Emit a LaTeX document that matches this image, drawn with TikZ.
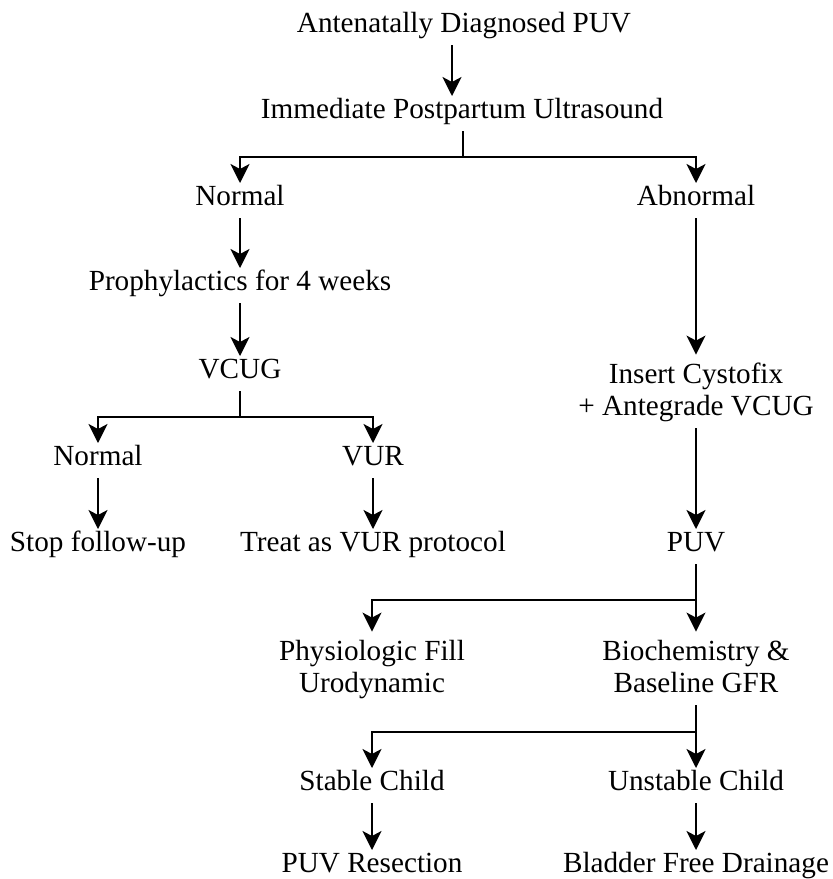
\documentclass[tikz,border=0pt]{standalone}
\usepackage{fontspec}
\setmainfont{Liberation Serif}
\usetikzlibrary{arrows.meta}

\begin{document}
\begin{tikzpicture}[x=0.5pt, y=-0.5pt,
        step label/.style={anchor=base, align=center, inner sep=3.5pt,
          text height=0.7em, text depth=0.25em,
          font=\fontsize{14.6}{16}\selectfont},
        two lines/.style={text height=26.2pt},
        >={Stealth[length=9.5pt,width=9.5pt,inset=2.5pt]}, line width=1pt]

        \useasboundingbox (0,0) rectangle (833,879);

        \node[step label] (ant)   at (464,32)  {Antenatally Diagnosed PUV};
        \node[step label] (ups)   at (462,118) {Immediate Postpartum Ultrasound};
        \node[step label] (norm)  at (240,205) {Normal};
        \node[step label] (abn)   at (696,205) {Abnormal};
        \node[step label] (proph) at (240,290) {Prophylactics for 4 weeks};
        \node[step label] (vcug)  at (240,378) {VCUG};
        \node[step label] (normb) at (98,465)  {Normal};
        \node[step label] (vur)   at (373,465) {VUR};
        \node[step label] (stop)  at (98,551)  {Stop follow-up};
        \node[step label] (treat) at (373,551) {Treat as VUR protocol};
        \node[step label,two lines] (cysto) at (696,415) {Insert Cystofix\\+ Antegrade VCUG};
        \node[step label] (puv)   at (696,551) {PUV};
        \node[step label,two lines] (phys) at (372,692) {Physiologic Fill\\Urodynamic};
        \node[step label,two lines] (bio)  at (696,692) {Biochemistry \&\\Baseline GFR};
        \node[step label] (stab)  at (372,790) {Stable Child};
        \node[step label] (unst)  at (696,790) {Unstable Child};
        \node[step label] (resec) at (372,872) {PUV Resection};
        \node[step label] (drain) at (696,872) {Bladder Free Drainage};

        \coordinate (split1) at (463,157);
        \coordinate (split2) at (240,417);
        \coordinate (split3) at (696,600);
        \coordinate (split4) at (696,732);

        % Top
        \draw[->] ([xshift=-6pt]ant.south) -- ([xshift=-6pt]ant.south |- ups.north);
        \draw (ups.south -| split1) -- (split1);
        \draw[->] (split1) -| (norm.north);
        \draw[->] (split1) -| (abn.north);

        % Normal branch
        \draw[->] (norm) -- (proph);
        \draw[->] (proph) -- (vcug);
        \draw (vcug.south) -- (split2);
        \draw[->] (split2) -| (normb.north);
        \draw[->] (split2) -| (vur.north);
        \draw[->] (normb) -- (stop);
        \draw[->] (vur) -- (treat);

        % Abnormal branch
        \draw[->] (abn) -- (cysto);
        \draw[->] (cysto) -- (puv);
        \draw[->] (puv) -- (bio);
        \draw[->] (split3) -| (phys.north);
        \draw[->] (bio) -- (unst);
        \draw[->] (split4) -| (stab.north);
        \draw[->] (stab) -- (resec);
        \draw[->] (unst) -- (drain);
      \end{tikzpicture}
\end{document}
